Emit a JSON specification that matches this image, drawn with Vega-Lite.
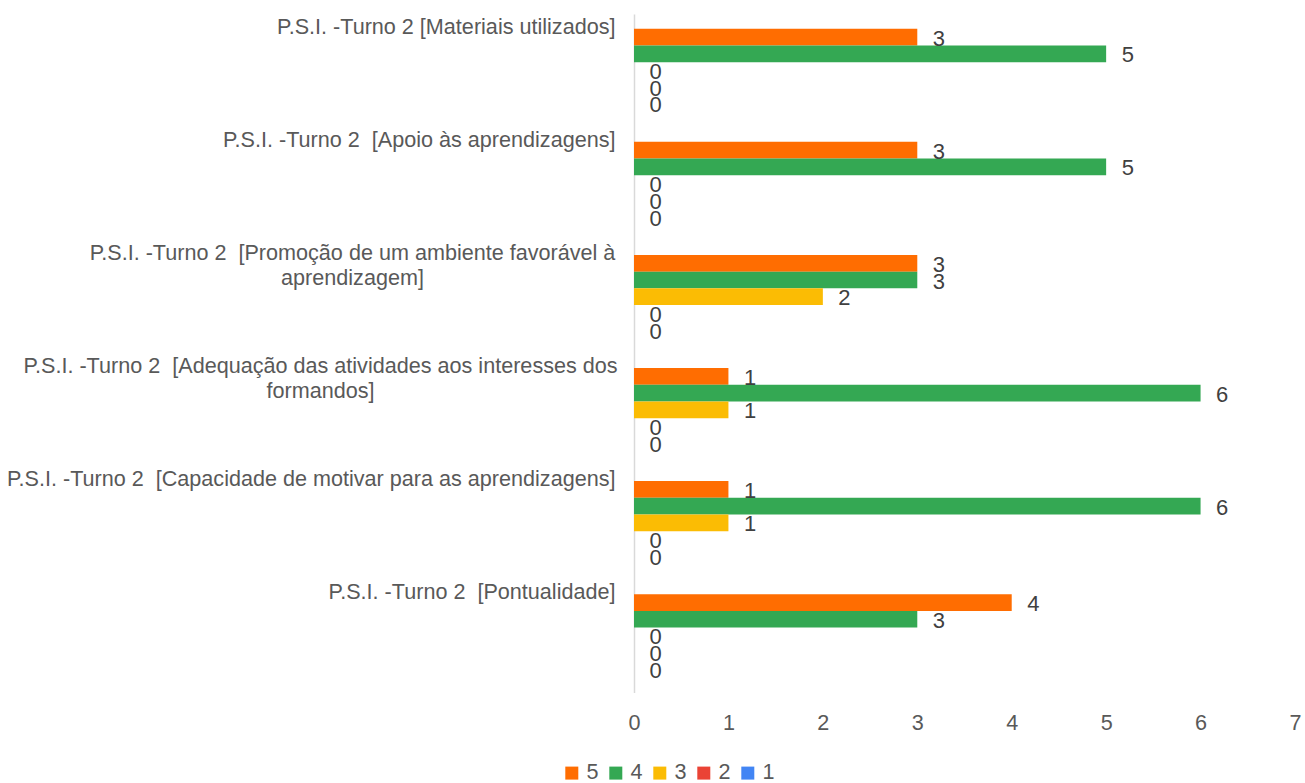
{
  "$schema": "https://vega.github.io/schema/vega-lite/v6.json",
  "width": 661,
  "height": 678.5,
  "autosize": {"type": "none"},
  "padding": {"left": 634, "top": 14, "right": 10, "bottom": 90.5},
  "background": "white",
  "config": {"view": {"stroke": null}, "font": "Liberation Sans"},
  "data": {"values": [
    {"item": "P.S.I. -Turno 2 [Materiais utilizados]", "rating": "5", "count": 3},
    {"item": "P.S.I. -Turno 2 [Materiais utilizados]", "rating": "4", "count": 5},
    {"item": "P.S.I. -Turno 2 [Materiais utilizados]", "rating": "3", "count": 0},
    {"item": "P.S.I. -Turno 2 [Materiais utilizados]", "rating": "2", "count": 0},
    {"item": "P.S.I. -Turno 2 [Materiais utilizados]", "rating": "1", "count": 0},
    {"item": "P.S.I. -Turno 2  [Apoio às aprendizagens]", "rating": "5", "count": 3},
    {"item": "P.S.I. -Turno 2  [Apoio às aprendizagens]", "rating": "4", "count": 5},
    {"item": "P.S.I. -Turno 2  [Apoio às aprendizagens]", "rating": "3", "count": 0},
    {"item": "P.S.I. -Turno 2  [Apoio às aprendizagens]", "rating": "2", "count": 0},
    {"item": "P.S.I. -Turno 2  [Apoio às aprendizagens]", "rating": "1", "count": 0},
    {"item": "P.S.I. -Turno 2  [Promoção de um ambiente favorável à aprendizagem]", "rating": "5", "count": 3},
    {"item": "P.S.I. -Turno 2  [Promoção de um ambiente favorável à aprendizagem]", "rating": "4", "count": 3},
    {"item": "P.S.I. -Turno 2  [Promoção de um ambiente favorável à aprendizagem]", "rating": "3", "count": 2},
    {"item": "P.S.I. -Turno 2  [Promoção de um ambiente favorável à aprendizagem]", "rating": "2", "count": 0},
    {"item": "P.S.I. -Turno 2  [Promoção de um ambiente favorável à aprendizagem]", "rating": "1", "count": 0},
    {"item": "P.S.I. -Turno 2  [Adequação das atividades aos interesses dos formandos]", "rating": "5", "count": 1},
    {"item": "P.S.I. -Turno 2  [Adequação das atividades aos interesses dos formandos]", "rating": "4", "count": 6},
    {"item": "P.S.I. -Turno 2  [Adequação das atividades aos interesses dos formandos]", "rating": "3", "count": 1},
    {"item": "P.S.I. -Turno 2  [Adequação das atividades aos interesses dos formandos]", "rating": "2", "count": 0},
    {"item": "P.S.I. -Turno 2  [Adequação das atividades aos interesses dos formandos]", "rating": "1", "count": 0},
    {"item": "P.S.I. -Turno 2  [Capacidade de motivar para as aprendizagens]", "rating": "5", "count": 1},
    {"item": "P.S.I. -Turno 2  [Capacidade de motivar para as aprendizagens]", "rating": "4", "count": 6},
    {"item": "P.S.I. -Turno 2  [Capacidade de motivar para as aprendizagens]", "rating": "3", "count": 1},
    {"item": "P.S.I. -Turno 2  [Capacidade de motivar para as aprendizagens]", "rating": "2", "count": 0},
    {"item": "P.S.I. -Turno 2  [Capacidade de motivar para as aprendizagens]", "rating": "1", "count": 0},
    {"item": "P.S.I. -Turno 2  [Pontualidade]", "rating": "5", "count": 4},
    {"item": "P.S.I. -Turno 2  [Pontualidade]", "rating": "4", "count": 3},
    {"item": "P.S.I. -Turno 2  [Pontualidade]", "rating": "3", "count": 0},
    {"item": "P.S.I. -Turno 2  [Pontualidade]", "rating": "2", "count": 0},
    {"item": "P.S.I. -Turno 2  [Pontualidade]", "rating": "1", "count": 0}
  ]},
  "encoding": {
    "y": {
      "field": "item", "type": "nominal",
      "sort": null,
      "scale": {"paddingInner": 0, "paddingOuter": 0},
      "axis": {
        "title": null,
        "ticks": false,
        "tickSize": 0,
        "domainColor": "#D9D9D9",
        "domainWidth": 1.5,
        "labelFontSize": 21.6,
        "labelColor": "#595959",
        "labelLimit": 0,
        "labelBaseline": "top",
        "labelOffset": -53.5,
        "labelLineHeight": 25,
        "labelBound": false,
        "labelOverlap": false,
        "labelAlign": {"condition": {"test": "datum.value == 'P.S.I. -Turno 2  [Promoção de um ambiente favorável à aprendizagem]' || datum.value == 'P.S.I. -Turno 2  [Adequação das atividades aos interesses dos formandos]'", "value": "center"}, "value": "right"},
        "labelPadding": {"condition": [
          {"test": "datum.value == 'P.S.I. -Turno 2  [Promoção de um ambiente favorável à aprendizagem]'", "value": 282},
          {"test": "datum.value == 'P.S.I. -Turno 2  [Adequação das atividades aos interesses dos formandos]'", "value": 314}
        ], "value": 19},
        "labelExpr": "datum.value == 'P.S.I. -Turno 2  [Promoção de um ambiente favorável à aprendizagem]' ? ['P.S.I. -Turno 2 \u00a0[Promoção de um ambiente favorável à', 'aprendizagem]'] : datum.value == 'P.S.I. -Turno 2  [Adequação das atividades aos interesses dos formandos]' ? ['P.S.I. -Turno 2 \u00a0[Adequação das atividades aos interesses dos', 'formandos]'] : replace(datum.label, '  ', ' \u00a0')"
      }
    },
    "yOffset": {
      "field": "rating", "type": "nominal",
      "sort": ["5", "4", "3", "2", "1"],
      "scale": {"paddingInner": 0, "paddingOuter": 0.885}
    },
    "x": {
      "field": "count", "type": "quantitative",
      "scale": {"domain": [0, 7], "nice": false},
      "axis": {
        "title": null,
        "values": [0, 1, 2, 3, 4, 5, 6, 7],
        "grid": false,
        "domain": false,
        "ticks": false,
        "tickSize": 0,
        "labelFontSize": 21.6,
        "labelColor": "#595959",
        "labelPadding": 19.5,
        "labelFlush": false
      }
    }
  },
  "layer": [
    {
      "mark": {"type": "bar"},
      "encoding": {
        "color": {
          "field": "rating", "type": "nominal",
          "scale": {"domain": ["5", "4", "3", "2", "1"], "range": ["#FF6D01", "#34A853", "#FBBC04", "#EA4335", "#4285F4"]},
          "legend": {
            "title": null,
            "orient": "none",
            "direction": "horizontal",
            "legendX": -73,
            "legendY": 748,
            "padding": 0,
            "symbolType": "square",
            "symbolSize": 169,
            "symbolStrokeWidth": 0,
            "labelFontSize": 21.6,
            "labelColor": "#595959",
            "labelOffset": 4,
            "columnPadding": 6
          }
        }
      }
    },
    {
      "mark": {"type": "text", "align": "left", "baseline": "middle", "dx": 15.5, "dy": 1.5, "fontSize": 22, "color": "#404040"},
      "encoding": {
        "text": {"field": "count", "type": "quantitative"}
      }
    }
  ]
}
